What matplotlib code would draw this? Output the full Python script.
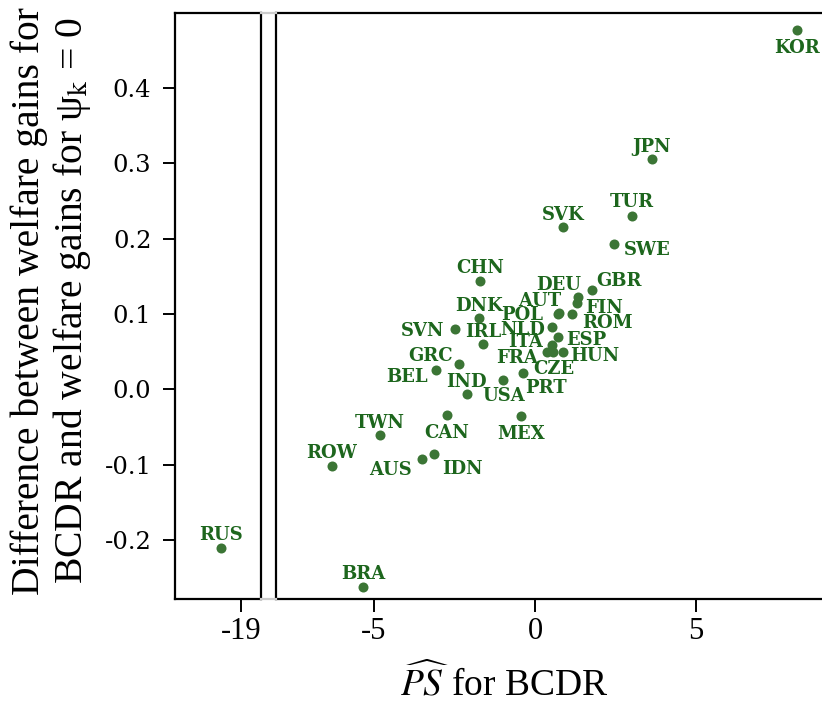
import matplotlib
matplotlib.use("Agg")
import matplotlib.pyplot as plt
from matplotlib.lines import Line2D

# ---------------- data ----------------
countries = ["KOR", "JPN", "TUR", "SVK", "SWE", "GBR", "DEU", "FIN", "AUT", "POL",
             "ROM", "NLD", "ESP", "ITA", "FRA", "CZE", "HUN", "PRT", "USA", "CHN",
             "DNK", "SVN", "IRL", "GRC", "BEL", "IND", "CAN", "MEX", "TWN", "ROW",
             "AUS", "IDN", "BRA", "RUS"]
ps_hat = [8.13, 3.63, 3.02, 0.88, 2.45, 1.76, 1.34, 1.30, 0.73, 0.70,
          1.14, 0.52, 0.70, 0.52, 0.36, 0.57, 0.88, -0.36, -0.98, -1.71,
          -1.73, -2.49, -1.61, -2.36, -3.07, -2.12, -2.74, -0.44, -4.81, -6.31,
          -3.52, -3.13, -5.33, -19.65]
welfare_diff = [0.477, 0.305, 0.230, 0.215, 0.193, 0.132, 0.123, 0.115, 0.101, 0.0995,
                0.100, 0.083, 0.070, 0.059, 0.050, 0.049, 0.049, 0.021, 0.012, 0.144,
                0.094, 0.080, 0.060, 0.033, 0.026, -0.006, -0.034, -0.035, -0.061, -0.102,
                -0.093, -0.086, -0.262, -0.211]

yticks = [-0.2, -0.1, 0.0, 0.1, 0.2, 0.3, 0.4]
ytick_labels = ["-0.2", "-0.1", "0.0", "0.1", "0.2", "0.3", "0.4"]
xticks_left = [-19]
xticks_right = [-5, 0, 5]
xtick_labels_left = ["-19"]
xtick_labels_right = ["-5", "0", "5"]

# label placement (style): alignment, dx, dy in pixels (dy positive = down)
label_pos = {
    "KOR": ("center", 0, 16.7), "JPN": ("center", 0, -14.3), "TUR": ("center", 0, -15),
    "SVK": ("center", 0, -13.4), "SWE": ("left", 10, 4.3), "CHN": ("center", 0, -14),
    "GBR": ("left", 5, -10), "DEU": ("right", 3.4, -13.4), "AUT": ("right", 3.2, -13.5),
    "FIN": ("left", 8.3, 4), "POL": ("right", -14.2, -1.2), "ROM": ("left", 10, 7.7),
    "NLD": ("right", -6.7, 1.3), "ESP": ("left", 9, 1.6), "ITA": ("right", -8.7, -4),
    "FRA": ("right", -8.4, 5), "HUN": ("left", 6.7, 2.3), "CZE": ("center", 0, 15.3),
    "PRT": ("left", 1.7, 12.7), "USA": ("center", 0, 14.3), "DNK": ("center", 0, -14),
    "SVN": ("right", -10.4, 0.7), "IRL": ("center", 0, -13.3), "GRC": ("right", -5.7, -10),
    "BEL": ("right", -8.7, 6), "IND": ("center", 0, -13.6), "CAN": ("center", 0, 16),
    "MEX": ("center", 0, 16.3), "TWN": ("center", 0, -14), "ROW": ("center", 0, -14.4),
    "AUS": ("right", -9.4, 9), "IDN": ("left", 7.7, 13.3), "BRA": ("center", 0, -14.6),
    "RUS": ("center", 0, -15),
}

dot_color = "#3b7535"
label_color = "#1d661d"
PX = 72 / 100.0

plt.rcParams["mathtext.fontset"] = "stix"

W, H = 822, 703
fig = plt.figure(figsize=(W / 100, H / 100), dpi=100)

top_px, bot_px = 13, 599
ax_l = fig.add_axes([175 / W, (H - bot_px) / H, 86 / W, (bot_px - top_px) / H])
ax_r = fig.add_axes([276 / W, (H - bot_px) / H, (W - 276) / W, (bot_px - top_px) / H])

ylim = (-0.278, 0.499)
ax_l.set_xlim(-21.07, -18.39)
ax_r.set_xlim(-8.04, 8.91)
for ax in (ax_l, ax_r):
    ax.set_ylim(*ylim)
    for s in ax.spines.values():
        s.set_linewidth(1.6)
        s.set_color("black")
ax_r.spines["right"].set_visible(False)

# points
xl = [x for x in ps_hat if x < -15]
yl = [y for x, y in zip(ps_hat, welfare_diff) if x < -15]
xr = [x for x in ps_hat if x >= -15]
yr = [y for x, y in zip(ps_hat, welfare_diff) if x >= -15]
ax_l.scatter(xl, yl, s=52, color=dot_color, linewidths=0, zorder=3)
ax_r.scatter(xr, yr, s=52, color=dot_color, linewidths=0, zorder=3)

for name, x, y in zip(countries, ps_hat, welfare_diff):
    ax = ax_l if x < -15 else ax_r
    ha, dx, dy = label_pos[name]
    ax.annotate(name, (x, y), xytext=(dx * PX, -(dy + 6.6) * PX),
                textcoords="offset points", ha=ha, va="baseline",
                fontsize=13, fontweight="bold", family="DejaVu Serif",
                color=label_color, annotation_clip=False, zorder=4)

# ticks
ax_l.set_yticks(yticks)
ax_l.set_yticklabels(ytick_labels, family="DejaVu Serif", fontsize=17.5)
ax_l.set_xticks(xticks_left)
ax_l.set_xticklabels(xtick_labels_left, family="Liberation Serif", fontsize=22)
ax_r.set_xticks(xticks_right)
ax_r.set_xticklabels(xtick_labels_right, family="Liberation Serif", fontsize=22)
ax_r.tick_params(axis="y", left=False, labelleft=False)
ax_l.tick_params(axis="y", direction="out", length=9, width=1.4, pad=8)
for ax in (ax_l, ax_r):
    ax.tick_params(axis="x", direction="out", length=9, width=1.4, pad=4)

# gray connectors between the panels
for ypx in (top_px, bot_px):
    fig.add_artist(Line2D([261 / W, 276 / W], [(H - ypx) / H] * 2,
                          transform=fig.transFigure, color="#cccccc", lw=1.6))

# axis titles
fig.text(504 / W, 8 / H, r"$\widehat{PS}$ for BCDR", ha="center", va="baseline",
         fontsize=27, family="Liberation Serif")
fig.text(52 / W, (H - 301) / H,
         "Difference between welfare gains for\nBCDR and welfare gains for ψ$_{\\mathrm{k}}$ = 0",
         rotation=90, ha="center", va="center", fontsize=28.5, family="Liberation Serif",
         linespacing=1.1, multialignment="center")

fig.savefig("out.png", dpi=100)
